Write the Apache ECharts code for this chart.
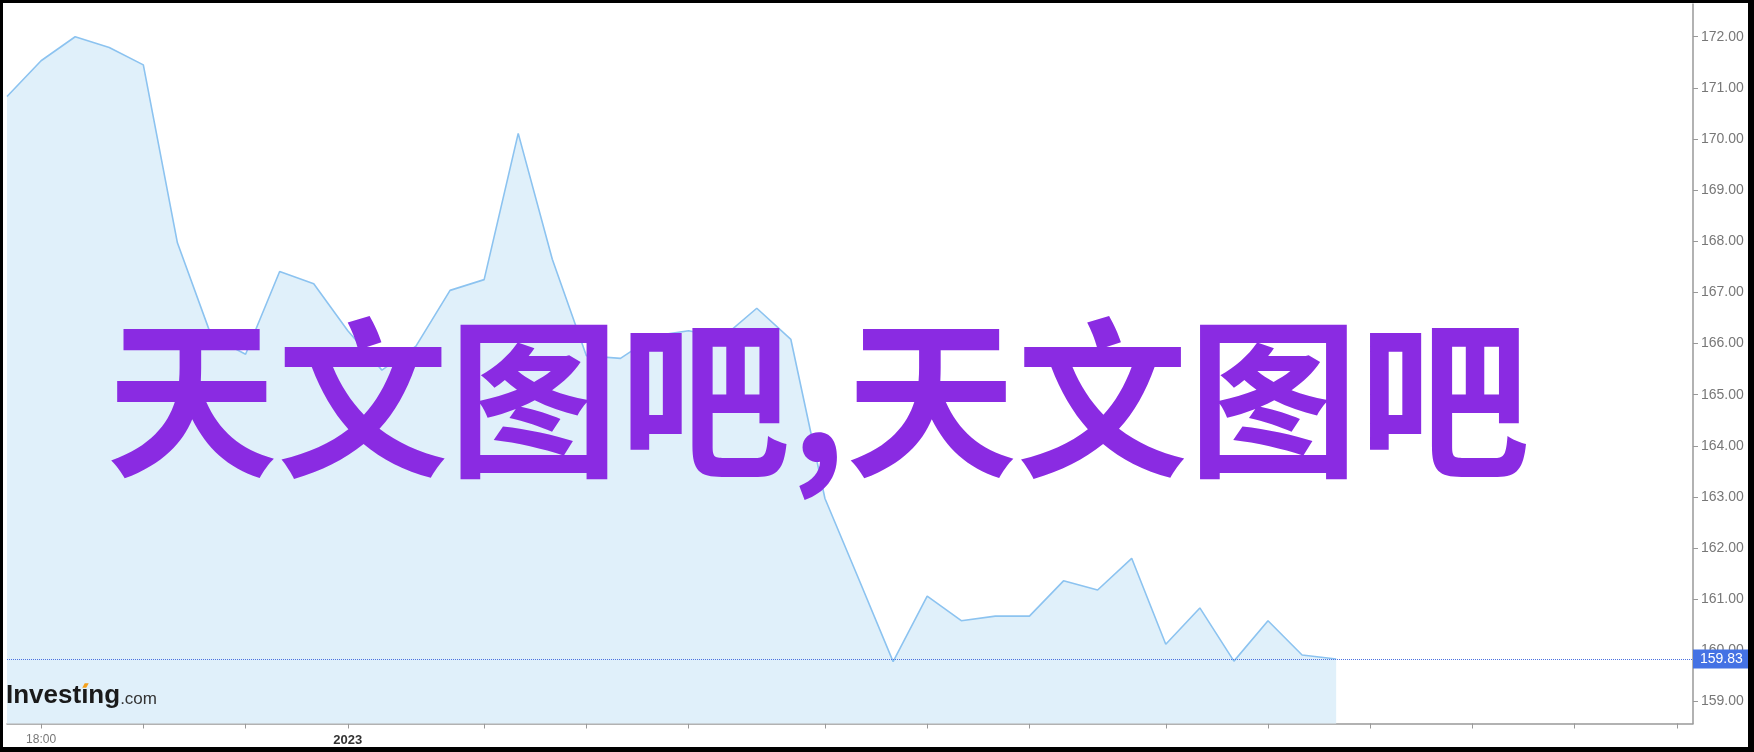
<!DOCTYPE html>
<html>
<head>
<meta charset="utf-8">
<script src="https://cdn.jsdelivr.net/npm/echarts@6/dist/echarts.min.js"></script>
<style>
  html, body { margin: 0; padding: 0; background: #fff; }
  #wrap { position: relative; width: 1754px; height: 752px; }
  #chart { position: absolute; left: 0; top: 0; width: 1754px; height: 752px; }
  #frame { position: absolute; left: 0; top: 0; width: 1754px; height: 752px; box-sizing: border-box;
           border-style: solid; border-color: #000; border-width: 3px 6px 5px 3px; pointer-events: none; }
</style>
</head>
<body>
<div id="wrap"><div id="chart"></div><div id="frame"></div></div>
<script>
// ---- data ----
const prices = [
  170.83, 171.53, 172.00, 171.79, 171.45, 167.97, 166.14, 165.79, 167.41, 167.17,
  166.25, 165.48, 165.95, 167.04, 167.25, 170.11, 167.65, 165.76, 165.71, 166.15,
  166.25, 166.12, 166.69, 166.08, 162.97, 161.38, 159.78, 161.06, 160.58, 160.67,
  160.67, 161.36, 161.18, 161.80, 160.12, 160.83, 159.79, 160.58, 159.91, 159.83
];
const xTickIdx = [1, 4, 7, 10, 14, 17, 20, 24, 27, 30, 34, 37, 40, 43, 46, 49];
const xLabelIdx = [1, 10];
const xLabelText = ['18:00', '2023'];
const yTickValues = [159, 160, 161, 162, 163, 164, 165, 166, 167, 168, 169, 170, 171, 172];
const lastPrice = 159.83;
const overlayText = '天文图吧,天文图吧';

const chart = echarts.init(document.getElementById('chart'), null, { renderer: 'canvas' });
const seriesData = prices.map((v, i) => [i, v]);

// position of the orange dot of the logo's "i"
const LOGO_FONT = 'bold 26px "Liberation Sans", Arial, sans-serif';
const logoX = 6, logoBaseline = 702;
const mctx = document.createElement('canvas').getContext('2d');
mctx.font = LOGO_FONT;
const wPre = mctx.measureText('Invest').width;
const wI = mctx.measureText('ı').width;
const dotCx = logoX + wPre + wI / 2 + 0.5;
const dotTop = logoBaseline - 26 * 0.72, dotBot = logoBaseline - 26 * 0.55;

const option = {
  animation: false,
  backgroundColor: '#fff',
  grid: { left: 7, right: 61, top: 4, bottom: 28.5, containLabel: false },
  xAxis: {
    type: 'value',
    min: 0,
    max: 49.47,
    splitLine: { show: false },
    axisLine: { show: true, onZero: false, lineStyle: { color: '#999', width: 1.5 } },
    axisTick: { show: true, customValues: xTickIdx, length: 5, lineStyle: { color: '#999', width: 1 } },
    axisLabel: {
      customValues: xLabelIdx,
      margin: 10,
      fontFamily: 'Liberation Sans, Arial, sans-serif',
      fontSize: 12,
      color: '#777',
      formatter: function (v) {
        const k = xLabelIdx.indexOf(Math.round(v));
        if (k < 0) return '';
        return k === 0 ? xLabelText[k] : '{b|' + xLabelText[k] + '}';
      },
      rich: { b: { fontWeight: 'bold', fontSize: 13, color: '#333', fontFamily: 'Liberation Sans, Arial, sans-serif' } }
    }
  },
  yAxis: {
    type: 'value',
    position: 'right',
    min: 158.57,
    max: 172.64,
    splitLine: { show: false },
    axisLine: { show: true, onZero: false, lineStyle: { color: '#999', width: 1.5 } },
    axisTick: { show: true, customValues: yTickValues, length: 5, lineStyle: { color: '#999', width: 1 } },
    axisLabel: {
      customValues: yTickValues,
      margin: 8,
      fontFamily: 'Liberation Sans, Arial, sans-serif',
      fontSize: 14,
      color: '#777',
      formatter: function (v) { return v.toFixed(2); }
    }
  },
  series: [{
    type: 'line',
    data: seriesData,
    showSymbol: false,
    symbol: 'none',
    lineStyle: { color: '#8cc3f0', width: 1.6 },
    areaStyle: { color: '#e0f0fa', opacity: 1, origin: 'start' },
    z: 2,
    markLine: {
      silent: true,
      symbol: ['none', 'none'],
      animation: false,
      lineStyle: { type: 'dotted', color: '#4b72e0', width: 1 },
      label: {
        show: true,
        position: 'end',
        distance: 0,
        formatter: lastPrice.toFixed(2),
        backgroundColor: '#4472e4',
        color: '#fff',
        fontFamily: 'Liberation Sans, Arial, sans-serif',
        fontSize: 14,
        padding: [3, 10, 2, 7]
      },
      data: [{ yAxis: lastPrice }]
    }
  }],
  graphic: [
    {
      type: 'text',
      z: 100,
      x: logoX,
      y: 709,
      style: {
        text: '{a|Investıng}{b|.com}',
        textVerticalAlign: 'bottom',
        rich: {
          a: { fontFamily: 'Liberation Sans, Arial, sans-serif', fontWeight: 'bold', fontSize: 26, fill: '#1a1a1a', verticalAlign: 'bottom' },
          b: { fontFamily: 'Liberation Sans, Arial, sans-serif', fontSize: 17, fill: '#333', verticalAlign: 'bottom', padding: [0, 0, 1, 0] }
        }
      }
    },
    {
      type: 'polygon',
      z: 101,
      shape: { points: [[dotCx - 3, dotBot], [dotCx - 0.5, dotTop], [dotCx + 3.5, dotTop], [dotCx + 1, dotBot]] },
      style: { fill: '#f5a11c' }
    },
    {
      type: 'text',
      z: 200,
      x: 818,
      y: 398,
      style: {
        text: overlayText,
        fill: '#8a2be2',
        fontFamily: '"Noto Sans CJK SC", sans-serif',
        fontWeight: 'bold',
        fontSize: 171,
        textAlign: 'center',
        textVerticalAlign: 'middle'
      }
    }
  ]
};
chart.setOption(option);
</script>
</body>
</html>
